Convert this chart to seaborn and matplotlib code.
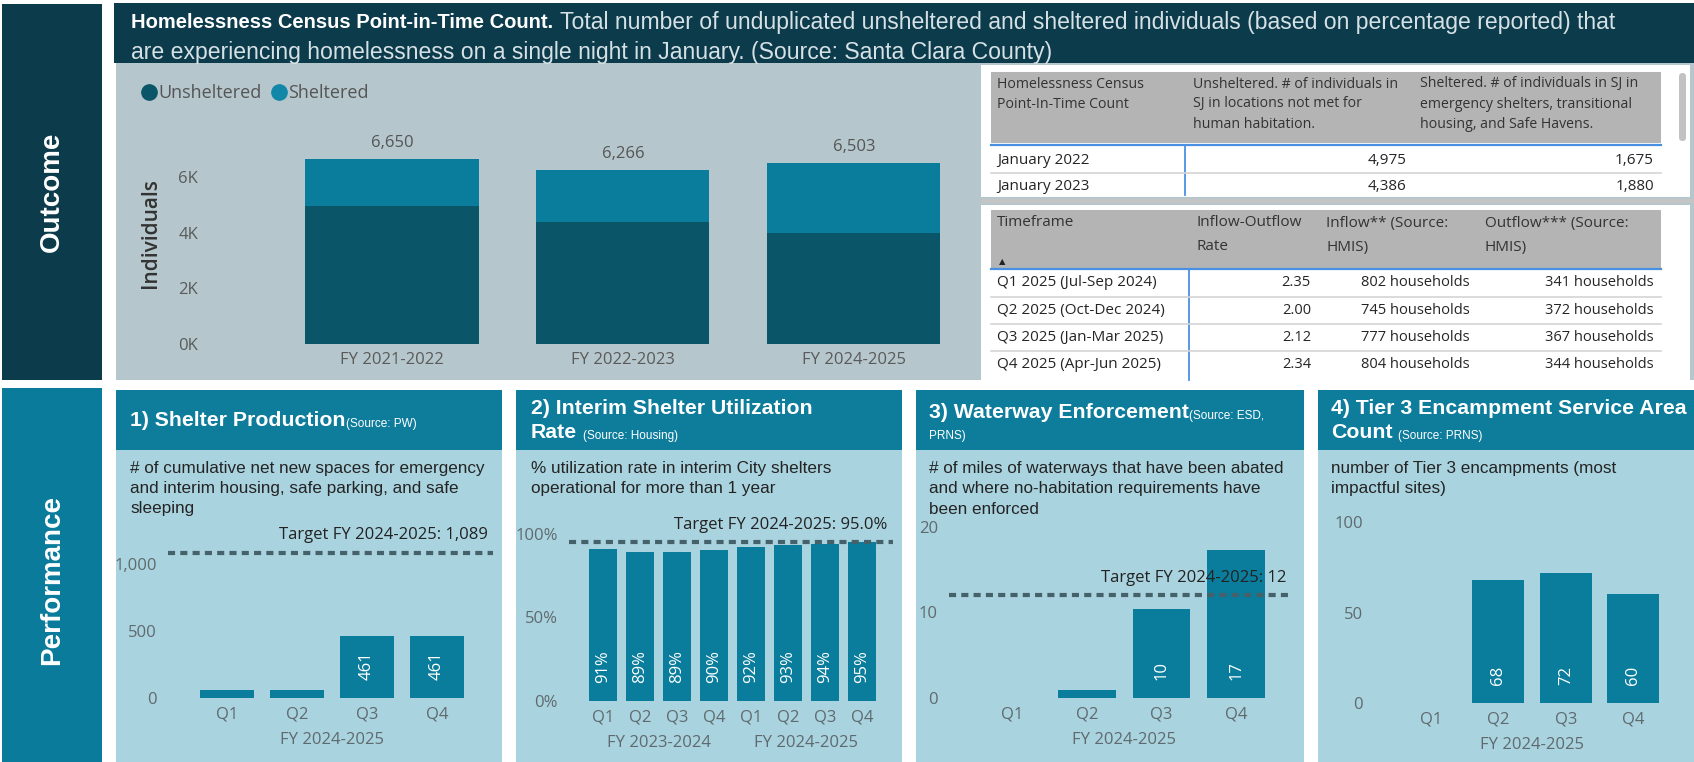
import numpy as np
import pandas as pd
import matplotlib
matplotlib.use("Agg")
import matplotlib.pyplot as plt
import seaborn as sns
from matplotlib.patches import Rectangle, FancyBboxPatch
from matplotlib.lines import Line2D

# ---------------- data ----------------
pit_years = ["FY 2021-2022", "FY 2022-2023", "FY 2024-2025"]
pit_unsheltered = [4975, 4386, 3984]
pit_sheltered = [1675, 1880, 2519]
pit_series = ["Unsheltered", "Sheltered"]
pit_yticks = [0, 2000, 4000, 6000]

census_head = ["Homelessness Census\nPoint-In-Time Count",
               "Unsheltered. # of individuals in\nSJ in locations not met for\nhuman habitation.",
               "Sheltered. # of individuals in SJ in\nemergency shelters, transitional\nhousing, and Safe Havens."]
census_rows = ["January 2022", "January 2023"]

flow_head = ["Timeframe", "Inflow-Outflow\nRate", "Inflow** (Source:\nHMIS)", "Outflow*** (Source:\nHMIS)"]
flow_rows = ["Q1 2025 (Jul-Sep 2024)", "Q2 2025 (Oct-Dec 2024)",
             "Q3 2025 (Jan-Mar 2025)", "Q4 2025 (Apr-Jun 2025)"]
flow_rate = [2.35, 2.00, 2.12, 2.34]
flow_in = [802, 745, 777, 804]
flow_out = [341, 372, 367, 344]

quarters = ["Q1", "Q2", "Q3", "Q4"]
fy25 = ["FY 2024-2025"] * 4

shelter_prod = [60, 60, 461, 461]
shelter_target = 1089

util_fy = ["FY 2023-2024"] * 4 + ["FY 2024-2025"] * 4
util_q = quarters + quarters
util_rate = [91, 89, 89, 90, 92, 93, 94, 95]
util_target = 95.0

waterway = [0, 0.9, 10.4, 17.3]
waterway_target = 12

tier3 = [0, 68, 72, 60]

# ---------------- style ----------------
plt.rcParams['font.family'] = ['Liberation Sans', 'DejaVu Sans']
SEG = 'Open Sans'
NAVY = '#0c3b4b'
PERF = '#0b7b9b'
HEAD = '#0e7d9c'
BODY = '#a9d3df'
CHART_BG = '#b5c7cc'
BAR = '#0a7d9c'
BAR_DARK = '#0a5568'
DASH = '#45616a'
TICK = '#5f6a6e'
HDR_GRAY = '#b4b4b4'
BLUE = '#4a90e2'

W, H = 1694, 762
fig = plt.figure(figsize=(W / 100, H / 100), dpi=100)
fig.patch.set_facecolor('white')


def ax_px(l, t, r, b):
    return fig.add_axes([l / W, 1 - b / H, (r - l) / W, (b - t) / H])


ax0 = ax_px(0, 0, W, H)
ax0.set_xlim(0, W)
ax0.set_ylim(H, 0)
ax0.axis('off')


def rect(x0, y0, x1, y1, color, **kw):
    p = Rectangle((x0, y0), x1 - x0, y1 - y0, facecolor=color, edgecolor='none', **kw)
    ax0.add_patch(p)
    return p


# side boxes
rect(2, 4, 102, 380, NAVY)
ax0.text(52, 192, "Outcome", rotation=90, color='white', fontsize=20, weight='bold',
         ha='center', va='center')
rect(2, 388, 102, 762, PERF)
ax0.text(52, 580, "Performance", rotation=90, color='white', fontsize=20, weight='bold',
         ha='center', va='center')

# title band + chart background
rect(114, 3, W, 63, NAVY)
rect(116, 63, W, 380, CHART_BG)
t1 = ax0.text(131, 23, "Homelessness Census Point-in-Time Count.", weight='bold',
              fontsize=14.5, color='white', va='center', ha='left')
ax0.annotate("Total number of unduplicated unsheltered and sheltered individuals (based on percentage reported) that",
             xy=(1, 0.5), xycoords=t1, xytext=(5, 0), textcoords='offset points',
             va='center', ha='left', fontsize=16.6, color='#d6e1e5')
ax0.text(131, 52, "are experiencing homelessness on a single night in January. (Source: Santa Clara County)",
         fontsize=16.6, color='#d6e1e5', va='center', ha='left')

# ---------------- top stacked bar chart ----------------
axt = ax_px(205, 130, 960, 344)
totals = [u + s for u, s in zip(pit_unsheltered, pit_sheltered)]
sns.barplot(x=pit_years, y=totals, color=BAR, width=0.75, saturation=1, linewidth=0, ax=axt)
sns.barplot(x=pit_years, y=pit_unsheltered, color=BAR_DARK, width=0.75, saturation=1, linewidth=0, ax=axt)
axt.bar_label(axt.containers[0], labels=[f"{t:,}" for t in totals], padding=6,
              fontsize=12, color='#555555', fontfamily=SEG)
axt.set_xlim(-0.81, 2.46)
axt.set_ylim(0, 7700)
axt.set_yticks(pit_yticks)
axt.set_yticklabels([f"{v // 1000}K" for v in pit_yticks])
axt.set_facecolor('none')
for s in axt.spines.values():
    s.set_visible(False)
axt.tick_params(length=0, labelsize=12, labelcolor='#5a5a5a', pad=5)
axt.tick_params(axis='x', pad=6)
for lab in axt.get_xticklabels() + axt.get_yticklabels():
    lab.set_fontfamily(SEG)
ax0.text(151, 233, "Individuals", rotation=90, ha='center', va='center', fontsize=15,
         color='#333333', fontfamily=SEG, weight='semibold')
handles = [Line2D([], [], marker='o', ls='', color=c, markersize=11) for c in (BAR_DARK, '#1387a8')]
axt.legend(handles, pit_series, loc='center left', bbox_to_anchor=(140 / W, 1 - 93 / H),
           bbox_transform=fig.transFigure, frameon=False, ncol=2, handlelength=1.0,
           handletextpad=0.0, borderpad=0, borderaxespad=0, columnspacing=0.5,
           prop={'family': SEG, 'size': 13}, labelcolor='#555555')

# ---------------- tables ----------------
rect(981, 65, 1690, 197, 'white')
ax0.plot([981, 1694], [201, 201], color='#c4c4c4', lw=3, solid_capstyle='butt')
rect(991, 72, 1661, 143, HDR_GRAY)
for x, txt in zip([997, 1193, 1420], census_head):
    for k, line in enumerate(txt.split("\n")):
        ax0.text(x, 84 + 20 * k, line, fontsize=10.2, color='#333333', fontfamily=SEG,
                 va='center', ha='left')
ax0.plot([991, 1661], [145, 145], color=BLUE, lw=1.6)
ax0.plot([1185, 1185], [145, 195], color=BLUE, lw=1.3)
clip1 = Rectangle((981, 65), 709, 131, transform=ax0.transData, visible=False)
ax0.add_patch(clip1)
for i, name in enumerate(census_rows):
    y = 160 + 27 * i
    items = [ax0.text(997, y, name, fontsize=11, color='#252525', fontfamily=SEG, va='center'),
             ax0.text(1406, y, f"{pit_unsheltered[i]:,}", fontsize=11, color='#252525',
                      fontfamily=SEG, va='center', ha='right'),
             ax0.text(1654, y, f"{pit_sheltered[i]:,}", fontsize=11, color='#252525',
                      fontfamily=SEG, va='center', ha='right')]
    for it in items:
        it.set_clip_path(clip1)
ax0.plot([991, 1661], [173, 173], color='#d4d4d4', lw=1.2)
ax0.add_patch(FancyBboxPatch((1679, 73), 7, 68, boxstyle='round,pad=0,rounding_size=3.5',
                             fc='#c2c2c2', ec='none'))

rect(981, 205, 1690, 380, 'white')
rect(991, 210, 1661, 268, HDR_GRAY)
for x, txt in zip([997, 1197, 1326, 1485], flow_head):
    for k, line in enumerate(txt.split("\n")):
        ax0.text(x, 223 + 24 * k, line, fontsize=11, color='#333333', fontfamily=SEG,
                 va='center', ha='left')
ax0.text(1002, 262, "▲", fontsize=6, color='#222222', ha='center', va='center', family='DejaVu Sans')
ax0.plot([991, 1661], [269, 269], color=BLUE, lw=1.6)
ax0.plot([1189, 1189], [269, 380], color=BLUE, lw=1.3)
for i, name in enumerate(flow_rows):
    y = 283 + 27.3 * i
    ax0.text(997, y, name, fontsize=11, color='#252525', fontfamily=SEG, va='center')
    ax0.text(1311, y, f"{flow_rate[i]:.2f}", fontsize=10.5, color='#252525', fontfamily=SEG,
             va='center', ha='right')
    ax0.text(1470, y, f"{flow_in[i]} households", fontsize=10.5, color='#252525', fontfamily=SEG,
             va='center', ha='right')
    ax0.text(1654, y, f"{flow_out[i]} households", fontsize=10.5, color='#252525', fontfamily=SEG,
             va='center', ha='right')
    if i < 3:
        ax0.plot([991, 1661], [y + 13.5, y + 13.5], color='#d4d4d4', lw=1.2)

# ---------------- performance panels ----------------
panel_x = [(116, 502), (516, 902), (916, 1304), (1318, 1694)]
for x0, x1 in panel_x:
    rect(x0, 390, x1, 450, HEAD)
    rect(x0, 450, x1, 762, BODY)

HB = dict(fontsize=15.3, weight='bold', color='white', va='center', ha='left')
HS = dict(fontsize=8.5, color='white', va='bottom', ha='left')

t = ax0.text(130, 420, "1) Shelter Production", **HB)
ax0.annotate("(Source: PW)", xy=(1, 0), xycoords=t, **HS)
ax0.text(531, 408, "2) Interim Shelter Utilization", **HB)
t = ax0.text(531, 433, "Rate", **HB)
ax0.annotate("(Source: Housing)", xy=(1, 0), xycoords=t, xytext=(4, 0), textcoords='offset points', **HS)
t = ax0.text(929, 413, "3) Waterway Enforcement", **HB)
ax0.annotate("(Source: ESD,", xy=(1, 0), xycoords=t, **HS)
ax0.text(929, 436, "PRNS)", fontsize=8.5, color='white', va='center', ha='left')
ax0.text(1331, 408, "4) Tier 3 Encampment Service Area", **HB)
t = ax0.text(1331, 433, "Count", **HB)
ax0.annotate("(Source: PRNS)", xy=(1, 0), xycoords=t, xytext=(4, 0), textcoords='offset points', **HS)

subs = [(130, ["# of cumulative net new spaces for emergency",
               "and interim housing, safe parking, and safe", "sleeping"]),
        (531, ["% utilization rate in interim City shelters",
               "operational for more than 1 year"]),
        (929, ["# of miles of waterways that have been abated",
               "and where no-habitation requirements have", "been enforced"]),
        (1331, ["number of Tier 3 encampments (most", "impactful sites)"])]
for x, lines in subs:
    for k, line in enumerate(lines):
        ax0.text(x, 469 + 20 * k, line, fontsize=12.3, color='#242424', va='center', ha='left')


def bar_panel(box, fys, qs, vals, ylim, yticks, ylabels, xlim, target=None, ttext=None,
              lab_fmt="{:.0f}", lab_min=None):
    ax = ax_px(*box)
    keys = [f"{f} {q}" for f, q in zip(fys, qs)]
    df = pd.DataFrame({"key": keys, "v": vals})
    sns.barplot(data=df, x="key", y="v", order=keys, color=BAR, width=0.77,
                saturation=1, linewidth=0, ax=ax)
    ax.set_xlim(*xlim)
    ax.set_ylim(*ylim)
    ax.set_facecolor('none')
    for s in ax.spines.values():
        s.set_visible(False)
    ax.set_xticks(range(len(qs)))
    ax.set_xticklabels(qs)
    ax.set_yticks(yticks)
    ax.set_yticklabels(ylabels)
    ax.set_xlabel("")
    ax.set_ylabel("")
    ax.tick_params(length=0, labelsize=12, labelcolor=TICK)
    ax.tick_params(axis='x', pad=6)
    ax.tick_params(axis='y', pad=8)
    for lab in ax.get_xticklabels() + ax.get_yticklabels():
        lab.set_fontfamily(SEG)
    for fy in dict.fromkeys(fys):
        pos = [i for i, f in enumerate(fys) if f == fy]
        ax.annotate(fy, xy=(np.mean(pos), 0), xycoords=('data', 'axes fraction'),
                    xytext=(0, -30), textcoords='offset points', ha='center', va='center',
                    fontsize=12, color=TICK, fontfamily=SEG)
    if target is not None:
        ax.axhline(target, color=DASH, lw=3, ls=(0, (1.7, 1.25)), zorder=5)
        ax.annotate(ttext, xy=(1, target), xycoords=('axes fraction', 'data'),
                    xytext=(-4, 12.5), textcoords='offset points', ha='right', va='center',
                    fontsize=12, color='#222222', fontfamily=SEG, zorder=6)
    for i, v in enumerate(vals):
        if v >= lab_min:
            ax.annotate(lab_fmt.format(v), xy=(i, 0), xycoords='data', xytext=(0, 13),
                        textcoords='offset points', rotation=90, ha='center', va='bottom',
                        fontsize=12, color='white', fontfamily=SEG, zorder=4)
    return ax


bar_panel((168, 531, 493, 698), fy25, quarters, shelter_prod, (0, 1250), [0, 500, 1000],
          ["0", "500", "1,000"], (-0.843, 3.8), shelter_target,
          f"Target FY 2024-2025: {shelter_target:,}", lab_min=200)
bar_panel((569, 517, 893, 701), util_fy, util_q, util_rate, (0, 110), [0, 50, 100],
          ["0%", "50%", "100%"], (-0.92, 7.84), util_target,
          f"Target FY 2024-2025: {util_target:.1f}%", lab_fmt="{:.0f}%", lab_min=20)
bar_panel((949, 518, 1292, 698), fy25, quarters, waterway, (0, 21), [0, 10, 20],
          ["0", "10", "20"], (-0.85, 3.75), waterway_target,
          f"Target FY 2024-2025: {waterway_target}", lab_min=4)
bar_panel((1374, 513, 1680, 703), fy25, quarters, tier3, (0, 105), [0, 50, 100],
          ["0", "50", "100"], (-0.84, 3.69), lab_min=20)

fig.savefig("out.png", dpi=100, facecolor=fig.get_facecolor())
